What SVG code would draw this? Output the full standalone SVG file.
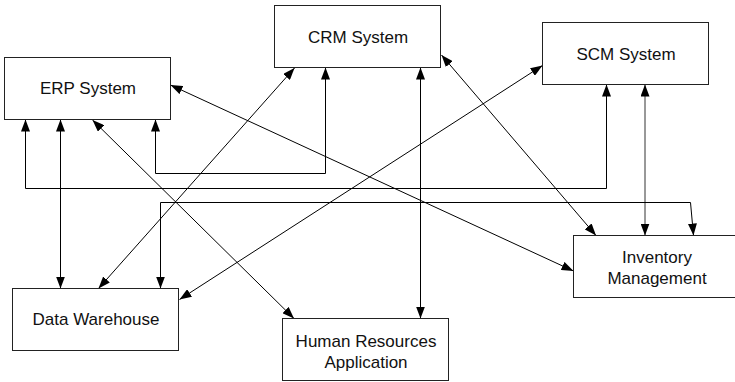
<svg xmlns="http://www.w3.org/2000/svg" width="735" height="382" viewBox="0 0 735 382">
<style>
.box{fill:#fff;stroke:#222;stroke-width:1}
.lbl{font-family:"Liberation Sans",Arial,sans-serif;font-size:17px;fill:#111;text-anchor:middle}
.c{fill:none;stroke:#000;stroke-width:1;marker-start:url(#ah);marker-end:url(#ah)}
</style>
<defs>
<marker id="ah" markerUnits="userSpaceOnUse" markerWidth="12" markerHeight="9" refX="12" refY="4.5" orient="auto-start-reverse">
<path d="M0,0 L12,4.5 L0,9 z" fill="#000"/>
</marker>
</defs>
<rect width="735" height="382" fill="#fff"/>
<g id="connectors">
<polyline class="c" points="25.5,119.5 25.5,188.5 606.5,188.5 606.5,84.5"/>
<line class="c" x1="60.5" y1="119.5" x2="60.5" y2="288.5"/>
<polyline class="c" points="155.5,119.5 155.5,173.5 325.5,173.5 325.5,67.5"/>
<line class="c" x1="92.5" y1="120" x2="294" y2="318.5"/>
<line class="c" x1="170.5" y1="85" x2="573.5" y2="271"/>
<line class="c" x1="294.5" y1="68" x2="98.5" y2="288.5"/>
<line class="c" x1="420.5" y1="67.5" x2="420.5" y2="318.5"/>
<line class="c" x1="441.5" y1="55" x2="596" y2="235.5"/>
<line class="c" x1="542.5" y1="65.5" x2="179.5" y2="299.5"/>
<line class="c" x1="645" y1="84.5" x2="645" y2="235.5" style="stroke:#333"/>
<polyline class="c" points="160.5,288.5 160.5,202.5 690.5,202.5 693.5,235.5"/>
</g>
<g id="erp"><rect class="box" x="4.5" y="57.5" width="166" height="62"/><text class="lbl" x="88" y="94">ERP System</text></g>
<g id="crm"><rect class="box" x="274.5" y="5.5" width="166" height="62"/><text class="lbl" x="358" y="42.5">CRM System</text></g>
<g id="scm"><rect class="box" x="542.5" y="22.5" width="166" height="62"/><text class="lbl" x="626" y="59.5">SCM System</text></g>
<g id="dw"><rect class="box" x="12.5" y="288.5" width="166" height="62"/><text class="lbl" x="96" y="325">Data Warehouse</text></g>
<g id="hr"><rect class="box" x="282.5" y="318.5" width="166" height="62"/><text class="lbl" x="366" y="347">Human Resources</text><text class="lbl" x="366" y="368">Application</text></g>
<g id="inv"><rect class="box" x="573.5" y="235.5" width="166" height="62"/><text class="lbl" x="657" y="263">Inventory</text><text class="lbl" x="657" y="283.5">Management</text></g>
</svg>
